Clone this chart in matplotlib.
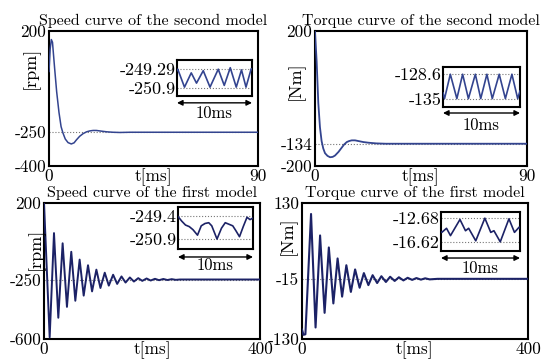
import matplotlib
matplotlib.use('Agg')
import matplotlib.pyplot as plt

plt.rcParams['font.family'] = ['cmr10', 'DejaVu Serif']
plt.rcParams['mathtext.fontset'] = 'cm'
plt.rcParams['axes.formatter.use_mathtext'] = True
plt.rcParams['axes.unicode_minus'] = False

# ---- data ----
# speed, second model (0-90 ms)
t_speed2 = [0, 0.5, 1.0, 1.5, 2.4, 3.3, 4.3, 5.2, 6.0, 7.0, 8.2, 9.6, 10.8, 11.8,
            13.2, 14.7, 16.2, 17.6, 19.0, 20.4, 22.5, 24.8, 27.5, 30.5, 35, 90]
v_speed2 = [20, 120, 162, 150, 37, -70, -162, -225, -253, -280, -296, -302, -297, -284,
            -268, -256, -248, -244, -242, -242, -245, -248, -250, -251, -250, -250]

# torque, second model (0-90 ms)
t_torque2 = [0, 0.7, 1.4, 2.1, 2.8, 3.5, 4.25, 5.3, 6.4, 7.5, 8.5, 10, 11.3, 12.4,
             13.5, 14.5, 15.6, 17, 18.4, 20.5, 22.7, 26, 30, 90]
v_torque2 = [198, 110, -13, -85, -126, -148, -162, -170, -174, -173, -169, -158, -146, -136,
             -129, -126, -124, -124, -126, -129, -131, -133, -134, -134]

# speed, first model (0-400 ms), turning points
t_speed1 = [0, 10.5, 18.5, 26.5, 34.5, 42.5, 50.5, 58, 66, 73.5, 81.5, 89, 97, 104.5,
            112.5, 120, 128, 135.5, 143.5, 151, 159, 166.5, 174.5, 182, 190, 197.5,
            205.5, 213, 221, 228.5, 236.5, 244, 252, 400]
v_speed1 = [200, -590, 23, -475, -37, -411, -87, -375, -133, -345, -166, -320, -192, -300,
            -210, -286, -222, -276, -232, -268, -238, -262, -242, -258, -244, -256,
            -246, -254, -247, -253, -248, -252, -250, -250]

# torque, first model (0-400 ms), turning points
t_torque1 = [0, 2.5, 6, 16, 24, 32, 40, 47.5, 55.5, 63, 71, 78.5, 86.5, 94, 102, 109.5,
             117.5, 125, 133, 140.5, 148.5, 156, 164, 171.5, 179.5, 187, 195, 202.5,
             210.5, 218, 226, 240, 400]
v_torque1 = [-112, -122, -121, 109, -108, 68, -80, 45, -62, 24, -49, 11, -40, 3, -32, -4,
             -27, -8, -23, -10, -21, -11, -19, -12, -18, -13, -17, -13.5,
             -16.5, -14, -16, -15, -15]

# zoomed 10 ms windows
ti_speed2 = [0, 0.1, 1.0, 1.9, 2.6, 3.5, 4.4, 5.5, 6.3, 7.1, 7.9, 8.6, 9.2, 9.9, 10]
vi_speed2 = [-249.4, -249.29, -250.85, -249.61, -250.5, -249.42, -250.85, -249.29, -250.7,
             -249.16, -250.85, -249.35, -250.85, -249.24, -249.3]

ti_torque2 = [0, 0.2, 0.95, 1.8, 2.55, 3.3, 4.2, 4.9, 5.7, 6.4, 7.3, 8.1, 8.95, 9.7, 10]
vi_torque2 = [-133.5, -135, -128.6, -135, -128.6, -135, -128.6, -135, -128.6, -135,
              -128.6, -135, -128.6, -135, -133]

ti_speed1 = [0, 0.5, 1.0, 1.5, 2.0, 2.6, 3.1, 3.6, 4.1, 4.5, 5.2, 5.8, 6.3, 6.8, 7.3,
             7.7, 8.2, 8.7, 9.2, 9.6, 10]
vi_speed1 = [-249.45, -249.75, -250.0, -250.1, -250.3, -250.65, -250.05, -249.9, -249.85,
             -250.05, -250.9, -250.2, -249.85, -249.95, -250.05, -250.35, -250.75, -250.1,
             -249.5, -249.65, -249.55]

ti_torque1 = [0, 0.1, 0.7, 1.2, 2.4, 3.1, 3.5, 4.4, 5.55, 6.3, 6.7, 7.5, 8.6, 9.3, 9.9, 10]
vi_torque1 = [-15.0, -15.07, -14.4, -15.6, -12.96, -14.8, -14.4, -16.45, -12.74, -15.07,
              -14.8, -16.62, -12.85, -15.07, -14.2, -14.4]

W, H = 555, 362


def fig_rect(x0, x1, y0, y1):
    return [x0 / W, 1 - y1 / H, (x1 - x0) / W, (y1 - y0) / H]


def draw_panel(fig, rect, t, v, xmax, ylim, mid, ylabel, ylabel_pos, title, color, lw):
    ax = fig.add_axes(rect)
    ax.plot(t, v, color=color, lw=lw, zorder=3)
    ax.axhline(mid, color='#777777', ls=':', lw=0.8, zorder=2)
    ax.set_xlim(0, xmax)
    ax.set_ylim(*ylim)
    ax.set_yticks([ylim[1], mid, ylim[0]])
    ax.set_yticklabels([str(ylim[1]), str(mid), str(ylim[0])])
    ax.set_xticks([0, xmax])
    ax.set_xticklabels(['0', str(xmax)])
    ax.tick_params(length=0, labelsize=12.5, pad=2)
    ax.tick_params(axis='x', pad=2)
    for s in ax.spines.values():
        s.set_linewidth(1.5)
    ax.text(0.5, -0.02, 't[ms]', transform=ax.transAxes, ha='center', va='top', fontsize=12.5)
    ax.text(ylabel_pos[0], ylabel_pos[1], ylabel, transform=ax.transAxes, rotation=90,
            ha='center', va='center', fontsize=13)
    ax.set_title(title, fontsize=11.5, pad=4)
    return ax


def draw_inset(fig, rect, t, v, top, bottom, ylim, color, arrow_y, text_y):
    ax = fig.add_axes(rect)
    ax.plot(t, v, color=color, lw=1.2, zorder=3)
    ax.axhline(top, color='#777777', ls=':', lw=0.8)
    ax.axhline(bottom, color='#777777', ls=':', lw=0.8)
    ax.set_xlim(0, 10)
    ax.set_ylim(*ylim)
    ax.set_xticks([])
    ax.set_yticks([top, bottom])
    ax.set_yticklabels([str(top), str(bottom)])
    ax.tick_params(length=0, labelsize=13, pad=1)
    for s in ax.spines.values():
        s.set_linewidth(1.5)
    ax.annotate('', xy=(0, arrow_y), xytext=(1, arrow_y), xycoords='axes fraction',
                textcoords='axes fraction',
                arrowprops=dict(arrowstyle='<|-|>', color='black', lw=1.0,
                                mutation_scale=8, shrinkA=0, shrinkB=0))
    ax.text(0.5, text_y, '10ms', transform=ax.transAxes, ha='center', va='center',
            fontsize=12)


fig = plt.figure(figsize=(5.55, 3.62), dpi=100)

top_color = '#33448f'
bot_color = '#1c2266'

draw_panel(fig, fig_rect(49, 258, 31, 166), t_speed2, v_speed2, 90, (-400, 200), -250,
           '[rpm]', (-0.085, 0.73), 'Speed curve of the second model', top_color, 1.1)
draw_panel(fig, fig_rect(315, 527, 31, 166), t_torque2, v_torque2, 90, (-200, 200), -134,
           '[Nm]', (-0.09, 0.63), 'Torque curve of the second model', top_color, 1.3)
draw_panel(fig, fig_rect(44, 260, 203, 339), t_speed1, v_speed1, 400, (-600, 200), -250,
           '[rpm]', (-0.035, 0.66), 'Speed curve of the first model', bot_color, 1.4)
draw_panel(fig, fig_rect(302, 528, 203, 339), t_torque1, v_torque1, 400, (-130, 130), -15,
           '[Nm]', (-0.06, 0.76), 'Torque curve of the first model', bot_color, 1.5)

draw_inset(fig, fig_rect(177, 252, 60, 96), ti_speed2, vi_speed2, -249.29, -250.9,
           (-251.62, -248.49), top_color, -0.19, -0.47)
draw_inset(fig, fig_rect(443, 520, 67, 107), ti_torque2, vi_torque2, -128.6, -135,
           (-137.2, -126.7), top_color, -0.15, -0.45)
draw_inset(fig, fig_rect(178, 253, 207, 249), ti_speed1, vi_speed1, -249.4, -250.9,
           (-251.54, -248.84), bot_color, -0.19, -0.38)
draw_inset(fig, fig_rect(441, 520, 212, 251), ti_torque1, vi_torque1, -12.68, -16.62,
           (-18.12, -11.73), bot_color, -0.18, -0.44)

fig.savefig('out.png', dpi=100)
